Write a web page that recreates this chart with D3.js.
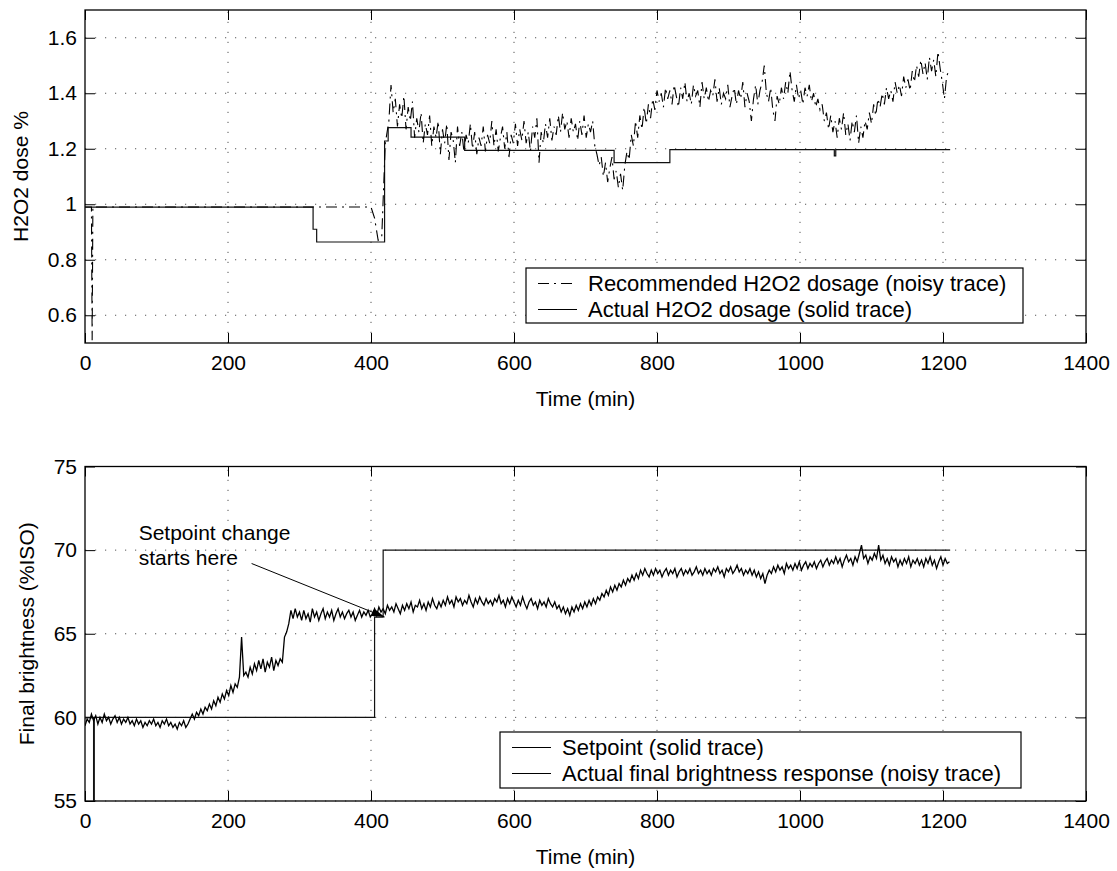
<!DOCTYPE html>
<html>
<head>
<meta charset="utf-8">
<script src="https://cdn.jsdelivr.net/npm/d3@7"></script>
<style>
  body { margin: 0; background: #fff; }
  svg { display: block; font-family: "Liberation Sans", Arial, Helvetica, sans-serif; }
  .grid line { stroke: #555; stroke-width: 1; stroke-dasharray: 1.2,8.8; }
  .tick text { font-size: 21px; fill: #000; }
  .tick line { stroke: #000; }
</style>
</head>
<body>
<div id="chart"></div>
<script>
// shared time axis
const timeTicks = [0, 200, 400, 600, 800, 1000, 1200, 1400];

// ---- top panel: H2O2 dose ----
const doseTicks = [0.6, 0.8, 1, 1.2, 1.4, 1.6];

// actual dosage is a stepped trace: time where each level starts
const actualDoseTime  = [0, 319, 324, 419, 424, 456, 531, 740, 818, 1048, 1050, 1210];
const actualDoseValue = [0.99, 0.91, 0.864, 1.228, 1.276, 1.242, 1.194, 1.15, 1.197, 1.174, 1.197, 1.197];

// recommended dosage: flat start read as breakpoints, then noisy part every 3 min
const recDoseTime  = [0, 9, 10, 11, 400, 405, 410, 415, 420];
const recDoseValue = [0.99, 0.99, 0.51, 0.99, 0.99, 0.95, 0.87, 0.88, 1.22];
const recNoisyStart = 425;
const recNoisyStep = 3;
const recNoisyValue = [
  1.30, 1.43, 1.33, 1.38, 1.28, 1.36, 1.31, 1.39, 1.27, 1.35,  // 425
  1.30, 1.37, 1.24, 1.31, 1.26, 1.33, 1.22, 1.29, 1.25, 1.32,  // 455
  1.21, 1.28, 1.24, 1.30, 1.18, 1.27, 1.22, 1.29, 1.16, 1.26,  // 485
  1.23, 1.15, 1.28, 1.21, 1.26, 1.19, 1.25, 1.22, 1.29, 1.20,  // 515
  1.26, 1.18, 1.24, 1.21, 1.28, 1.19, 1.25, 1.22, 1.30, 1.21,  // 545
  1.27, 1.19, 1.24, 1.28, 1.20, 1.26, 1.17, 1.25, 1.22, 1.29,  // 575
  1.21, 1.27, 1.23, 1.30, 1.22, 1.26, 1.19, 1.28, 1.24, 1.31,  // 605
  1.15, 1.26, 1.22, 1.29, 1.24, 1.31, 1.23, 1.28, 1.25, 1.32,  // 635
  1.26, 1.33, 1.27, 1.30, 1.24, 1.31, 1.26, 1.29, 1.23, 1.30,  // 665
  1.25, 1.32, 1.24, 1.29, 1.26, 1.30, 1.21, 1.18, 1.14, 1.17,  // 695
  1.10, 1.15, 1.08, 1.13, 1.17, 1.09, 1.12, 1.06, 1.11, 1.05,  // 725
  1.14, 1.19, 1.16, 1.25, 1.21, 1.30, 1.24, 1.32, 1.27, 1.35,  // 755
  1.29, 1.36, 1.31, 1.38, 1.34, 1.41, 1.37, 1.40, 1.35, 1.42,  // 785
  1.38, 1.41, 1.36, 1.43, 1.39, 1.35, 1.42, 1.38, 1.44, 1.37,  // 815
  1.40, 1.36, 1.43, 1.39, 1.41, 1.35, 1.44, 1.38, 1.42, 1.37,  // 845
  1.41, 1.39, 1.45, 1.37, 1.42, 1.36, 1.40, 1.38, 1.43, 1.35,  // 875
  1.39, 1.42, 1.36, 1.41, 1.38, 1.44, 1.35, 1.40, 1.37, 1.30,  // 905
  1.38, 1.43, 1.36, 1.41, 1.44, 1.50, 1.40, 1.37, 1.42, 1.34,  // 935
  1.30, 1.39, 1.36, 1.42, 1.38, 1.44, 1.40, 1.48, 1.41, 1.37,  // 965
  1.43, 1.38, 1.41, 1.36, 1.42, 1.39, 1.43, 1.37, 1.40, 1.35,  // 995
  1.38, 1.34, 1.36, 1.30, 1.33, 1.27, 1.32, 1.26, 1.30, 1.24,  // 1025
  1.31, 1.27, 1.33, 1.25, 1.29, 1.23, 1.30, 1.26, 1.32, 1.22,  // 1055
  1.28, 1.24, 1.30, 1.27, 1.33, 1.29, 1.36, 1.32, 1.38, 1.35,  // 1085
  1.40, 1.36, 1.42, 1.38, 1.41, 1.37, 1.44, 1.40, 1.43, 1.39,  // 1115
  1.46, 1.42, 1.45, 1.41, 1.48, 1.44, 1.50, 1.46, 1.52, 1.47,  // 1145
  1.51, 1.45, 1.53, 1.48, 1.52, 1.46, 1.55, 1.49, 1.44, 1.38,  // 1175
  1.46, 1.48                                                   // 1205
];

// ---- bottom panel: final brightness ----
const brightTicks = [55, 60, 65, 70, 75];

const setpointTime  = [0, 12, 13, 405, 417, 1210];
const setpointValue = [60, 54, 60, 66, 70, 70];

// measured brightness, one reading every 3 min from t = 0
const brightStep = 3;
const brightValue = [
  59.5, 59.9, 59.7, 60.2, 59.8, 60.1, 59.6, 60.0, 59.7, 60.2,  // 0
  59.8, 60.0, 59.6, 59.9, 60.1, 59.7, 60.0, 59.6, 59.9, 59.7,  // 30
  60.0, 59.6, 59.8, 59.5, 59.9, 59.6, 59.8, 59.4, 59.7, 59.5,  // 60
  59.8, 59.6, 59.9, 59.5, 59.7, 59.4, 59.8, 59.6, 59.9, 59.5,  // 90
  59.7, 59.4, 59.6, 59.3, 59.7, 59.5, 59.8, 59.4, 59.6, 59.9,  // 120
  60.2, 59.9, 60.3, 60.1, 60.5, 60.2, 60.6, 60.4, 60.8, 60.5,  // 150
  61.0, 60.7, 61.2, 60.9, 61.4, 61.1, 61.6, 61.3, 61.9, 61.5,  // 180
  62.0, 61.8, 62.4, 64.8, 62.5, 62.7, 62.4, 63.0, 62.6, 63.2,  // 210
  62.8, 63.4, 62.9, 63.5, 62.7, 63.3, 63.0, 63.6, 62.8, 63.4,  // 240
  63.1, 63.5, 63.3, 64.8, 65.1, 65.6, 66.4, 65.9, 66.5, 66.0,  // 270
  66.3, 65.8, 66.4, 65.9, 66.2, 65.7, 66.5, 66.0, 66.3, 65.8,  // 300
  66.2, 66.5, 65.9, 66.3, 66.0, 66.4, 65.8, 66.2, 66.5, 66.0,  // 330
  66.3, 65.9, 66.2, 66.4, 66.0, 66.3, 65.8, 66.1, 66.4, 66.0,  // 360
  66.3, 66.1, 66.4, 66.0, 66.2, 66.5, 66.1, 66.6, 66.3, 66.5,  // 390
  66.2, 66.7, 66.4, 66.6, 66.3, 66.8, 66.5, 66.2, 66.7, 66.4,  // 420
  66.8, 66.5, 66.9, 66.3, 66.7, 66.6, 67.0, 66.5, 66.8, 66.4,  // 450
  66.9, 66.6, 67.1, 66.7, 66.5, 66.9, 66.6, 67.0, 66.7, 67.2,  // 480
  66.8, 67.0, 66.6, 67.2, 66.9, 67.1, 66.7, 67.0, 66.8, 67.3,  // 510
  66.9, 66.6, 67.1, 66.8, 67.2, 66.9, 66.7, 67.1, 66.8, 67.0,  // 540
  66.7, 67.1, 66.9, 67.3, 66.8, 67.0, 66.6, 67.1, 66.8, 67.2,  // 570
  66.9, 66.6, 67.0, 66.7, 67.2, 66.8, 66.5, 66.9, 67.1, 66.7,  // 600
  66.9, 66.5, 67.0, 66.7, 66.9, 66.6, 67.1, 66.8, 66.6, 66.9,  // 630
  66.5, 66.7, 66.3, 66.6, 66.2, 66.5, 66.1, 66.6, 66.3, 66.7,  // 660
  66.4, 66.8, 66.5, 66.9, 66.6, 67.0, 66.7, 67.1, 66.8, 67.2,  // 690
  67.0, 67.4, 67.2, 67.6, 67.3, 67.8, 67.5, 67.9, 67.6, 68.0,  // 720
  67.8, 68.2, 67.9, 68.3, 68.1, 68.5, 68.2, 68.6, 68.3, 68.8,  // 750
  68.5, 68.9, 68.6, 68.4, 68.8, 68.5, 68.9, 68.6, 68.8, 68.4,  // 780
  68.7, 68.9, 68.5, 68.8, 68.6, 68.9, 68.4, 68.7, 68.9, 68.5,  // 810
  68.8, 68.6, 68.9, 68.5, 68.7, 69.0, 68.6, 68.8, 68.5, 68.9,  // 840
  68.6, 68.8, 68.5, 68.9, 68.7, 69.0, 68.6, 68.8, 68.4, 68.9,  // 870
  68.7, 69.0, 68.6, 68.8, 69.1, 68.7, 68.9, 68.5, 68.8, 68.6,  // 900
  68.9, 68.5, 68.8, 68.4, 68.7, 68.3, 68.6, 68.0, 68.5, 68.8,  // 930
  68.6, 69.0, 68.7, 69.1, 68.8, 69.0, 68.6, 69.2, 68.9, 69.1,  // 960
  68.8, 69.2, 68.9, 69.3, 68.8, 69.1, 69.3, 68.9, 69.2, 69.0,  // 990
  69.3, 68.9, 69.2, 69.4, 69.0, 69.3, 69.5, 69.1, 69.4, 69.2,  // 1020
  69.6, 69.2, 69.5, 69.0, 69.4, 69.7, 69.3, 69.5, 69.1, 69.6,  // 1050
  69.3, 69.8, 70.3, 69.5, 69.7, 69.2, 69.6, 69.4, 69.8, 69.5,  // 1080
  70.3, 69.4, 69.7, 69.2, 69.5, 69.1, 69.6, 69.3, 69.5, 69.0,  // 1110
  69.4, 69.1, 69.5, 69.2, 69.6, 69.0, 69.4, 69.2, 69.5, 69.1,  // 1140
  69.4, 69.0, 69.5, 69.2, 69.6, 69.1, 69.4, 68.9, 69.3, 69.6,  // 1170
  69.1, 69.5, 69.2, 69.3                                       // 1200
];

// annotation: text anchor and arrow, in data units
const noteLines = ["Setpoint change", "starts here"];
const noteAt = [75, 70.6];
const arrowFrom = [233, 69.2];
const arrowTo = [419, 66.0];

// ---------------------------------------------------------------
const width = 1117, height = 871;

const svg = d3.select("#chart").append("svg")
  .attr("width", width)
  .attr("height", height);

svg.append("defs").append("marker")
  .attr("id", "arrowhead")
  .attr("markerUnits", "userSpaceOnUse")
  .attr("markerWidth", 13).attr("markerHeight", 8)
  .attr("refX", 13).attr("refY", 4)
  .attr("orient", "auto")
  .append("path").attr("d", "M0,0 L13,4 L0,8 Z").attr("fill", "#000");

const x = d3.scaleLinear().domain([0, 1400]).range([85, 1086]);
const yTop = d3.scaleLinear().domain([0.5, 1.7]).range([343, 10]);
const yBot = d3.scaleLinear().domain([55, 75]).range([801, 466.5]);

// draws grid, frame, ticks on all four sides and the labels
function drawFrame(y, yTicks, fmt, clipId, yTitle, yTitleX) {
  const g = svg.append("g");
  const [y0, y1] = y.range();
  const [x0, x1] = x.range();

  svg.append("clipPath").attr("id", clipId)
    .append("rect").attr("x", x0).attr("y", y1).attr("width", x1 - x0).attr("height", y0 - y1);

  const grid = g.append("g").attr("class", "grid");
  grid.selectAll(".gv").data(timeTicks.filter(t => t > 0 && t < 1400)).join("line")
    .attr("x1", d => x(d)).attr("x2", d => x(d))
    .attr("y1", y0).attr("y2", y1);
  grid.selectAll(".gh").data(yTicks).join("line")
    .attr("class", "gh")
    .attr("x1", x0).attr("x2", x1)
    .attr("y1", d => y(d)).attr("y2", d => y(d));

  g.append("g").attr("transform", `translate(0,${y0})`)
    .call(d3.axisBottom(x).tickValues(timeTicks).tickFormat(d3.format("d"))
      .tickSizeInner(-10).tickSizeOuter(0).tickPadding(12));
  g.append("g").attr("transform", `translate(0,${y1})`)
    .call(d3.axisTop(x).tickValues(timeTicks).tickSizeInner(-10).tickSizeOuter(0).tickFormat(""));
  g.append("g").attr("transform", `translate(${x0},0)`)
    .call(d3.axisLeft(y).tickValues(yTicks).tickSizeInner(-10).tickSizeOuter(0).tickPadding(8).tickFormat(fmt));
  g.append("g").attr("transform", `translate(${x1},0)`)
    .call(d3.axisRight(y).tickValues(yTicks).tickSizeInner(-10).tickSizeOuter(0).tickFormat(""));
  g.selectAll(".domain").remove();

  g.append("rect")
    .attr("x", x0).attr("y", y1)
    .attr("width", x1 - x0).attr("height", y0 - y1)
    .attr("fill", "none").attr("stroke", "#000").attr("stroke-width", 1.3);

  svg.append("text")
    .attr("x", (x0 + x1) / 2).attr("y", y0 + 63)
    .attr("text-anchor", "middle")
    .attr("font-size", 21)
    .text("Time (min)");

  svg.append("text")
    .attr("transform", `translate(${yTitleX},${(y0 + y1) / 2}) rotate(-90)`)
    .attr("text-anchor", "middle")
    .attr("font-size", 21)
    .text(yTitle);
}

function drawLegend(box, rows) {
  const g = svg.append("g");
  g.append("rect")
    .attr("x", box.x).attr("y", box.y).attr("width", box.w).attr("height", box.h)
    .attr("fill", "#fff").attr("stroke", "#000").attr("stroke-width", 1.2);
  rows.forEach((r, i) => {
    const cy = box.y + 15.5 + i * 26;
    g.append("line")
      .attr("x1", box.x + box.lineX).attr("x2", box.x + box.lineX + 39)
      .attr("y1", cy).attr("y2", cy)
      .attr("stroke", "#000").attr("stroke-width", 1)
      .attr("stroke-dasharray", r.dash || null);
    g.append("text")
      .attr("x", box.x + box.textX).attr("y", cy)
      .attr("dy", "0.36em")
      .attr("font-size", 22)
      .text(r.label);
  });
}

// ---------------- top panel ----------------
const fmtDose = d => String(+d.toFixed(1));
drawFrame(yTop, doseTicks, fmtDose, "clipTop", "H2O2 dose %", 28);

const recPoints = recDoseTime.map((t, i) => [t, recDoseValue[i]])
  .concat(recNoisyValue.map((v, i) => [recNoisyStart + i * recNoisyStep, v]));
const actualPoints = actualDoseTime.map((t, i) => [t, actualDoseValue[i]]);

const lineTop = d3.line().x(d => x(d[0])).y(d => yTop(d[1]));

const topData = svg.append("g").attr("clip-path", "url(#clipTop)");
topData.append("path")
  .attr("d", lineTop.curve(d3.curveStepAfter)(actualPoints))
  .attr("fill", "none").attr("stroke", "#111").attr("stroke-width", 1.2);
topData.append("path")
  .attr("d", lineTop.curve(d3.curveLinear)(recPoints))
  .attr("fill", "none").attr("stroke", "#000").attr("stroke-width", 1.1)
  .attr("stroke-dasharray", "11,5,2,5");

drawLegend({x: 526, y: 268, w: 497, h: 55, lineX: 12, textX: 62}, [
  {label: "Recommended H2O2 dosage (noisy trace)", dash: "11,5,2,5"},
  {label: "Actual H2O2 dosage (solid trace)"}
]);

// ---------------- bottom panel ----------------
drawFrame(yBot, brightTicks, d => d, "clipBot", "Final brightness (%ISO)", 34);

const brightPoints = brightValue.map((v, i) => [i * brightStep, v]);
const spPoints = setpointTime.map((t, i) => [t, setpointValue[i]]);

const lineBot = d3.line().x(d => x(d[0])).y(d => yBot(d[1]));

const botData = svg.append("g").attr("clip-path", "url(#clipBot)");
botData.append("path")
  .attr("d", lineBot.curve(d3.curveStepAfter)(spPoints))
  .attr("fill", "none").attr("stroke", "#111").attr("stroke-width", 1.2);
botData.append("path")
  .attr("d", lineBot.curve(d3.curveLinear)(brightPoints))
  .attr("fill", "none").attr("stroke", "#000").attr("stroke-width", 1.3);

drawLegend({x: 500, y: 732, w: 521, h: 56, lineX: 12, textX: 62}, [
  {label: "Setpoint (solid trace)"},
  {label: "Actual final brightness response (noisy trace)"}
]);

// annotation
svg.append("line")
  .attr("x1", x(arrowFrom[0])).attr("y1", yBot(arrowFrom[1]))
  .attr("x2", x(arrowTo[0])).attr("y2", yBot(arrowTo[1]))
  .attr("stroke", "#000").attr("stroke-width", 1)
  .attr("marker-end", "url(#arrowhead)");

svg.append("text")
  .attr("x", x(noteAt[0])).attr("y", yBot(noteAt[1]))
  .attr("font-size", 21)
  .selectAll("tspan").data(noteLines).join("tspan")
  .attr("x", x(noteAt[0]))
  .attr("dy", (d, i) => i === 0 ? 0 : 25)
  .text(d => d);
</script>
</body>
</html>
